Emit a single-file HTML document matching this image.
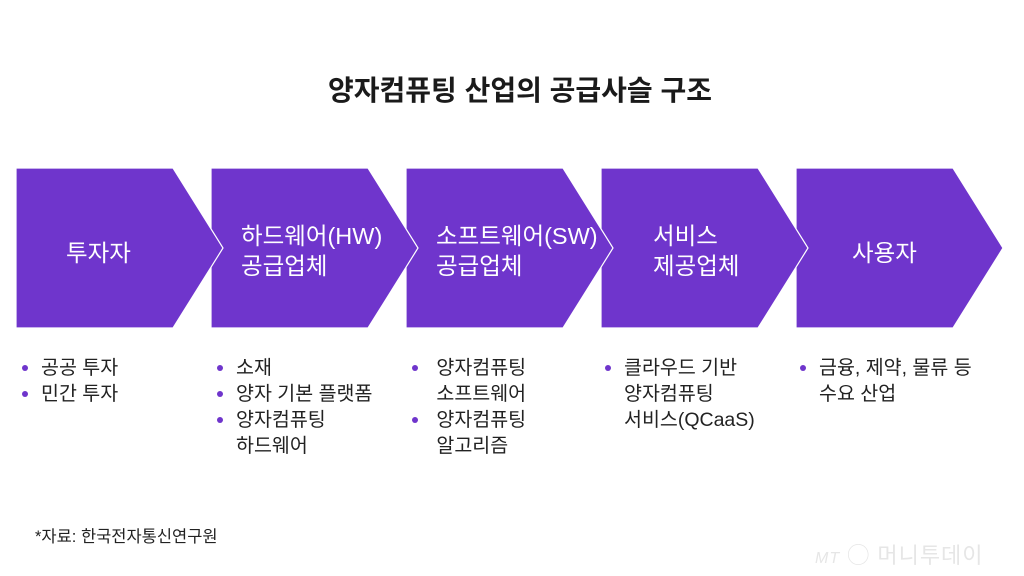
<!DOCTYPE html><html><head><meta charset="utf-8"><style>
body{margin:0;width:1024px;height:576px;background:#fff;position:relative;overflow:hidden;font-family:"Liberation Sans","Noto Sans CJK KR",sans-serif;color:#222}
.t{position:absolute;left:8px;width:1024px;top:69px;text-align:center;font-size:28px;font-weight:bold;color:#1a1a1a}
.l{position:absolute;color:#fff;font-size:23.5px;line-height:30px}
ul{position:absolute;margin:0;padding:0;list-style:none;font-size:19.5px;line-height:26px;top:355px;color:#222}
li{position:relative;padding-left:19px}
li:before{content:"";position:absolute;left:0;top:10px;width:6px;height:6px;border-radius:50%;background:#6f35cc}
.s{position:absolute;left:35px;top:523px;font-size:16.5px}
.w{position:absolute;left:815px;top:538px;font-size:22px;color:#e6e6e6;letter-spacing:1px}
</style></head><body>
<div class="t">양자컴퓨팅 산업의 공급사슬 구조</div>
<svg width="1024" height="576" style="position:absolute;left:0;top:0">
<g fill="#6f35cc" stroke="#fff" stroke-width="1.2">
<polygon points="796,168 953,168 1003,248 953,328 796,328"/>
<polygon points="601,168 758,168 808,248 758,328 601,328"/>
<polygon points="406,168 563,168 613,248 563,328 406,328"/>
<polygon points="211,168 368,168 418,248 368,328 211,328"/>
<polygon points="16,168 173,168 223,248 173,328 16,328"/>
</g></svg>
<div class="l" style="left:66px;top:238px">투자자</div>
<div class="l" style="left:241px;top:221px">하드웨어(HW)<br>공급업체</div>
<div class="l" style="left:436px;top:221px">소프트웨어(SW)<br>공급업체</div>
<div class="l" style="left:653px;top:221px">서비스<br>제공업체</div>
<div class="l" style="left:852px;top:238px">사용자</div>
<ul style="left:22px"><li>공공 투자</li><li>민간 투자</li></ul>
<ul style="left:217px"><li>소재</li><li>양자 기본 플랫폼</li><li>양자컴퓨팅<br>하드웨어</li></ul>
<ul style="left:412px"><li>&nbsp;양자컴퓨팅<br>&nbsp;소프트웨어</li><li>&nbsp;양자컴퓨팅<br>&nbsp;알고리즘</li></ul>
<ul style="left:605px"><li>클라우드 기반<br>양자컴퓨팅<br>서비스(QCaaS)</li></ul>
<ul style="left:800px"><li>금융, 제약, 물류 등<br>수요 산업</li></ul>
<div class="s">*자료: 한국전자통신연구원</div>
<div class="w"><i style="font-size:16px">MT</i> ◯ 머니투데이</div>
</body></html>
